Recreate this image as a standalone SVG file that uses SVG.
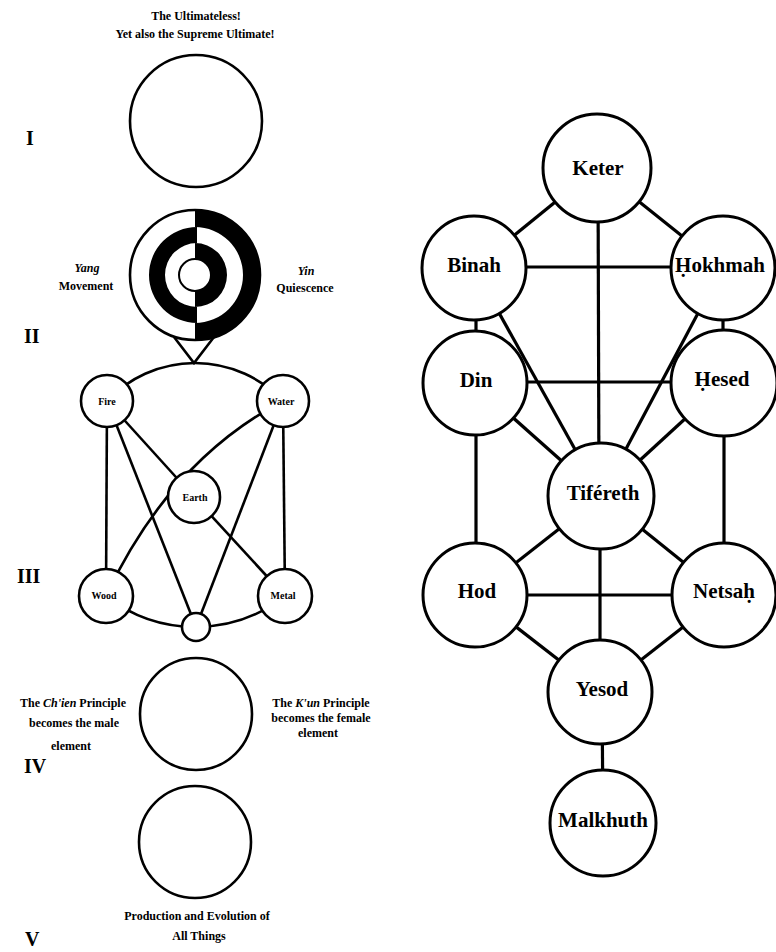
<svg xmlns="http://www.w3.org/2000/svg" width="776" height="952" viewBox="0 0 776 952">
<style>
.bg{fill:#fff}
.c{fill:#fff;stroke:#000;stroke-width:2.6}
.tc{fill:#fff;stroke:#000;stroke-width:3}
.ln{fill:none;stroke:#000;stroke-width:2.6}
.tl{fill:none;stroke:#000;stroke-width:3.2}
.blk{fill:#000}
.lt{font-family:"Liberation Serif",serif;font-weight:bold;font-size:12px;fill:#000}
.el{font-family:"Liberation Serif",serif;font-weight:bold;font-size:10px;fill:#000;text-anchor:middle}
.rn{font-family:"Liberation Serif",serif;font-weight:bold;font-size:20px;fill:#000}
.tt{font-family:"Liberation Serif","DejaVu Serif",serif;font-weight:bold;font-size:21px;fill:#000;text-anchor:middle}
.m{text-anchor:middle}
</style>
<rect class="bg" width="776" height="952"/>

<!-- Left: Chou Dunyi diagram -->
<g id="caption-top">
<text class="lt m" x="196" y="20">The Ultimateless!</text>
<text class="lt m" x="195" y="38">Yet also the Supreme Ultimate!</text>
</g>
<g id="numerals">
<text class="rn" x="26" y="145">I</text>
<text class="rn" x="24" y="343">II</text>
<text class="rn" x="17" y="583">III</text>
<text class="rn" x="24" y="773">IV</text>
<text class="rn" x="25" y="946">V</text>
</g>

<g id="stage-I">
<circle class="c" cx="196" cy="121" r="66"/>
</g>

<g id="stage-II">
<circle class="c" cx="195" cy="275" r="65"/>
<path class="blk" d="M195 210 A65 65 0 0 1 195 340 L195 323 A48 48 0 0 0 195 227 Z"/>
<path class="blk" d="M197 227 A48 48 0 0 0 197 323 L197 307 A32 32 0 0 1 197 243 Z"/>
<path class="blk" d="M195 243 A32 32 0 0 1 195 307 L195 291 A16 16 0 0 0 195 259 Z"/>
<circle cx="195" cy="275" r="16" fill="#fff" stroke="#000" stroke-width="2"/>
<text class="lt m" x="87" y="272" font-style="italic">Yang</text>
<text class="lt m" x="86" y="290">Movement</text>
<text class="lt m" x="306" y="275" font-style="italic">Yin</text>
<text class="lt m" x="305" y="292">Quiescence</text>
</g>

<g id="connectors-left">
<path class="ln" d="M174 337 L194 363 L214 337"/>
<path class="ln" d="M107 401 A121 121 0 0 1 283 401"/>
<path class="ln" d="M106 596 A145 145 0 0 0 285 596"/>
<line class="ln" x1="107" y1="401" x2="106" y2="596"/>
<line class="ln" x1="283" y1="401" x2="285" y2="596"/>
<line class="ln" x1="107" y1="401" x2="196" y2="627"/>
<line class="ln" x1="283" y1="401" x2="196" y2="627"/>
<line class="ln" x1="107" y1="401" x2="194" y2="497"/>
<line class="ln" x1="194" y1="497" x2="285" y2="596"/>
<path class="ln" d="M283 401 Q170 460 106 596"/>
</g>

<g id="fire"><circle class="c" cx="107" cy="401" r="26"/><text class="el" x="107" y="405">Fire</text></g>
<g id="water"><circle class="c" cx="283" cy="401" r="26"/><text class="el" x="281" y="405">Water</text></g>
<g id="earth"><circle class="c" cx="194" cy="497" r="26"/><text class="el" x="195" y="501">Earth</text></g>
<g id="wood"><circle class="c" cx="106" cy="596" r="27"/><text class="el" x="104" y="599">Wood</text></g>
<g id="metal"><circle class="c" cx="285" cy="596" r="27"/><text class="el" x="283" y="599">Metal</text></g>
<g id="union"><circle class="c" cx="196" cy="627" r="14"/></g>

<g id="stage-IV">
<circle class="c" cx="196" cy="714" r="56"/>
<text class="lt m" x="73" y="707">The <tspan font-style="italic">Ch'ien</tspan> Principle</text>
<text class="lt m" x="74" y="727">becomes the male</text>
<text class="lt m" x="71" y="750">element</text>
<text class="lt m" x="321" y="707">The <tspan font-style="italic">K'un</tspan> Principle</text>
<text class="lt m" x="321" y="722">becomes the female</text>
<text class="lt m" x="318" y="737">element</text>
</g>

<g id="stage-V">
<circle class="c" cx="195" cy="842" r="56"/>
<text class="lt m" x="197" y="920">Production and Evolution of</text>
<text class="lt m" x="199" y="940">All Things</text>
</g>

<!-- Right: Tree of Life -->
<g id="connectors-tree">
<line class="tl" x1="597" y1="168" x2="474" y2="268"/>
<line class="tl" x1="597" y1="168" x2="722" y2="268"/>
<line class="tl" x1="598" y1="168" x2="599" y2="496"/>
<line class="tl" x1="474" y1="267" x2="722" y2="267"/>
<line class="tl" x1="476" y1="268" x2="476" y2="383"/>
<line class="tl" x1="723" y1="268" x2="723" y2="383"/>
<line class="tl" x1="474" y1="268" x2="601" y2="496"/>
<line class="tl" x1="722" y1="268" x2="601" y2="496"/>
<line class="tl" x1="474" y1="382" x2="724" y2="382"/>
<line class="tl" x1="474" y1="383" x2="601" y2="496"/>
<line class="tl" x1="724" y1="383" x2="601" y2="496"/>
<line class="tl" x1="476" y1="383" x2="476" y2="595"/>
<line class="tl" x1="724" y1="383" x2="724" y2="595"/>
<line class="tl" x1="601" y1="496" x2="475" y2="595"/>
<line class="tl" x1="601" y1="496" x2="724" y2="595"/>
<line class="tl" x1="600" y1="496" x2="600" y2="692"/>
<line class="tl" x1="475" y1="595" x2="724" y2="595"/>
<line class="tl" x1="475" y1="595" x2="600" y2="692"/>
<line class="tl" x1="724" y1="595" x2="600" y2="692"/>
<line class="tl" x1="602" y1="692" x2="603" y2="823"/>
</g>

<g id="keter"><circle class="tc" cx="597" cy="168" r="54"/><text class="tt" x="598" y="175">Keter</text></g>
<g id="binah"><circle class="tc" cx="474" cy="268" r="52"/><text class="tt" x="474" y="272">Binah</text></g>
<g id="hokhmah"><circle class="tc" cx="723" cy="268" r="52"/><text class="tt" x="720" y="272">Ḥokhmah</text></g>
<g id="din"><circle class="tc" cx="475" cy="383" r="52"/><text class="tt" x="476" y="387">Din</text></g>
<g id="hesed"><circle class="tc" cx="724" cy="383" r="53"/><text class="tt" x="722" y="386">Ḥesed</text></g>
<g id="tifereth"><circle class="tc" cx="601" cy="496" r="53"/><text class="tt" x="603" y="500">Tiféreth</text></g>
<g id="hod"><circle class="tc" cx="475" cy="595" r="52"/><text class="tt" x="477" y="598">Hod</text></g>
<g id="netsah"><circle class="tc" cx="724" cy="595" r="52"/><text class="tt" x="724" y="598">Netsaḥ</text></g>
<g id="yesod"><circle class="tc" cx="600" cy="692" r="52"/><text class="tt" x="602" y="696">Yesod</text></g>
<g id="malkhuth"><circle class="tc" cx="603" cy="823" r="53"/><text class="tt" x="603" y="827">Malkhuth</text></g>
</svg>
